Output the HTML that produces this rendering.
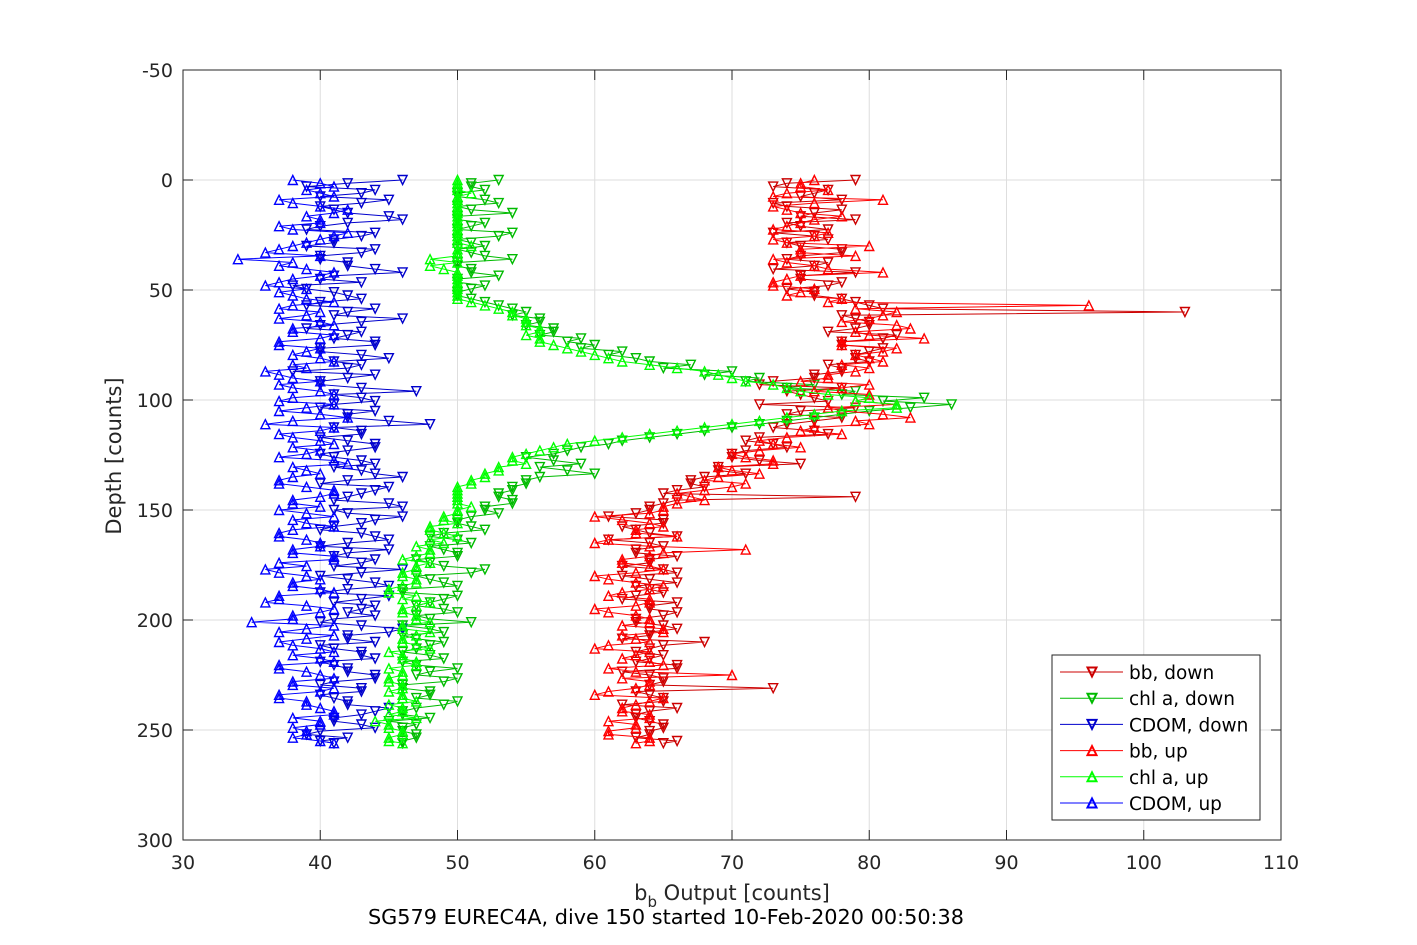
<!DOCTYPE html>
<html><head><meta charset="utf-8"><style>
html,body{margin:0;padding:0;background:#fff;}
svg{display:block;font-family:"DejaVu Sans","Liberation Sans",sans-serif;}
</style></head><body>
<svg id="chart" width="1417" height="945" viewBox="0 0 1417 945" xmlns="http://www.w3.org/2000/svg">
<rect x="0" y="0" width="1417" height="945" fill="#fff"/>
<g id="grid"></g>
<g id="series"></g>
<rect x="183" y="70" width="1098" height="770" fill="none" stroke="#262626" stroke-width="1"/>
<g id="ticks"></g>
<text x="732" y="900" font-size="21" fill="#262626" text-anchor="middle">b<tspan font-size="15" dy="7">b</tspan><tspan dy="-7"> Output [counts]</tspan></text>
<text x="666" y="924" font-size="20.8" fill="#000" text-anchor="middle">SG579 EUREC4A, dive 150 started 10-Feb-2020 00:50:38</text>
<text transform="translate(121,456) rotate(-90)" font-size="21" fill="#262626" text-anchor="middle">Depth [counts]</text>
<g id="legend"></g>
</svg>
<script>
const depths = [0,3,6,9,12,15,18,21,24,27,30,33,36,39,42,45,48,51,54,57,60,63,66,69,72,75,78,81,84,87,90,93,96,99,102,105,108,111,114,117,120,123,126,129,132,135,138,141,144,147,150,153,156,159,162,165,168,171,174,177,180,183,186,189,192,195,198,201,204,207,210,213,216,219,222,225,228,231,234,237,240,243,246,249,252,255];
const depthsB = [1.5,4.5,7.5,10.5,13.5,16.5,19.5,22.5,25.5,28.5,31.5,34.5,37.5,40.5,43.5,46.5,49.5,52.5,55.5,58.5,61.5,64.5,67.5,70.5,73.5,76.5,79.5,82.5,85.5,88.5,91.5,94.5,97.5,100.5,103.5,106.5,109.5,112.5,115.5,118.5,121.5,124.5,127.5,130.5,133.5,136.5,139.5,142.5,145.5,148.5,151.5,154.5,157.5,160.5,163.5,166.5,169.5,172.5,175.5,178.5,181.5,184.5,187.5,190.5,193.5,196.5,199.5,202.5,205.5,208.5,211.5,214.5,217.5,220.5,223.5,226.5,229.5,232.5,235.5,238.5,241.5,244.5,247.5,250.5,253.5,256];
const bbDown = [79,73,76,78,74,76,79,75,73,77,75,78,74,76,79,75,77,76,78,80,103,79,80,77,81,78,80,79,77,78,76,72,74,76,72,75,78,74,76,72,73,71,70,75,69,68,67,66,79,65,64,61,65,63,66,64,63,66,64,65,62,66,64,63,66,64,65,63,66,64,68,64,65,63,66,64,65,73,64,65,66,63,64,65,64,66];
const bbDownB = [74,77,75,73,78,75,74,77,76,74,78,75,77,73,75,78,74,76,79,81,78,80,79,82,78,81,79,80,78,76,73,78,75,77,79,74,76,73,77,71,74,70,72,69,71,67,68,65,66,64,63,65,62,64,61,65,63,64,62,66,64,63,65,62,64,66,63,65,64,62,65,63,64,66,62,65,64,63,65,62,64,63,65,64,63,65];
const bbUp = [76,75,74,81,73,75,76,74,77,73,80,75,73,76,81,74,73,75,78,96,82,80,82,79,84,78,81,80,78,79,77,80,76,80,82,78,83,80,75,74,73,72,71,73,70,69,71,68,67,66,65,60,64,63,66,60,71,64,62,65,60,63,64,61,64,60,63,64,65,62,64,60,63,64,61,70,64,63,60,64,62,64,61,63,61,64];
const bbUpB = [75,77,73,76,74,78,75,73,76,74,75,79,74,77,75,73,76,74,77,79,81,78,83,80,78,82,79,81,80,77,75,78,80,79,77,81,79,76,78,72,75,70,73,69,72,68,70,66,68,65,64,62,65,63,61,64,65,62,64,63,61,65,62,64,63,61,64,62,65,63,61,64,62,65,63,62,64,61,65,63,62,64,63,61,64,63];
const chlDown = [53,51,50,52,50,54,50,51,54,50,52,51,54,50,51,50,52,50,51,53,55,56,55,57,59,60,62,63,67,70,72,76,79,84,86,80,76,72,68,64,61,58,55,59,58,56,55,54,53,54,52,51,50,52,48,51,49,50,48,52,47,49,46,50,48,49,47,51,48,46,49,47,48,46,50,47,49,46,48,50,47,46,45,46,47,46];
const chlDownB = [51,52,50,53,51,50,52,50,53,51,50,52,50,51,53,50,51,50,52,54,54,56,57,56,58,59,61,64,65,68,71,74,78,81,83,78,74,70,66,62,59,57,57,56,60,55,54,53,54,52,53,50,51,49,50,48,50,47,49,51,48,50,46,49,47,50,48,46,49,47,48,46,49,47,48,50,46,48,47,49,46,48,47,46,47,46];
const chlUp = [50,50,51,50,50,50,50,50,50,50,51,50,48,48,50,50,50,50,50,52,54,55,55,56,56,57,59,61,64,68,70,73,75,80,82,78,74,70,66,62,58,56,54,55,53,52,51,50,50,50,50,49,50,48,50,49,48,47,48,47,46,47,45,47,48,46,47,48,46,47,46,48,46,47,45,46,45,46,46,47,46,45,44,45,46,45];
const chlUpB = [50,50,50,50,50,50,50,50,50,50,50,50,50,49,50,50,50,50,51,53,54,55,56,55,56,58,60,62,66,69,71,74,77,79,82,76,72,68,64,60,57,55,54,53,52,51,50,50,50,51,50,49,48,49,48,47,48,46,47,46,47,46,45,46,47,46,47,46,48,46,47,45,46,47,46,45,46,45,46,45,46,47,45,46,45,46];
const cdomDown = [46,39,43,45,40,42,46,40,44,41,39,43,40,42,46,40,38,41,43,39,42,46,40,43,41,44,40,45,43,38,42,40,47,43,41,44,42,48,43,40,44,42,41,44,43,46,40,44,42,45,41,46,43,40,44,42,45,41,43,46,40,44,42,45,41,43,44,40,46,42,44,41,43,40,42,44,41,43,40,42,45,43,41,44,39,40];
const cdomDownB = [42,44,40,43,41,45,42,39,43,41,44,40,42,44,41,43,39,42,40,44,41,43,39,42,44,40,43,41,42,44,40,43,41,44,40,42,45,41,43,42,44,40,43,41,44,42,45,43,41,46,42,44,41,43,45,40,42,44,41,43,42,45,40,43,44,42,41,43,45,42,40,43,44,41,42,44,40,43,41,42,44,41,43,40,42,41];
const cdomUp = [38,41,40,37,40,41,40,37,42,40,38,36,34,37,41,38,36,37,39,38,40,37,41,38,40,37,39,40,38,36,38,37,40,38,41,37,42,36,40,38,41,40,37,42,39,38,37,41,40,38,37,41,39,38,37,40,38,41,37,36,39,38,40,37,36,41,38,35,39,41,37,40,38,41,37,40,38,41,37,39,40,41,40,38,39,40];
const cdomUpB = [40,39,41,38,42,39,40,38,41,39,37,40,38,39,40,37,39,38,41,37,39,40,38,41,37,40,38,41,39,37,40,38,41,37,39,40,38,41,37,40,38,39,41,38,40,37,39,41,38,40,39,38,41,37,39,40,38,41,39,37,40,38,41,37,39,40,38,41,37,39,38,41,40,37,39,41,38,40,37,39,41,38,40,39,38,41];
const xTicks = [30,40,50,60,70,80,90,100,110];
const yTicks = [-50,0,50,100,150,200,250,300];
const seriesNames = ["bb, down","chl a, down","CDOM, down","bb, up","chl a, up","CDOM, up"];

const NS = "http://www.w3.org/2000/svg";
const X0=183,X1=1281,Y0=70,Y1=840;
const xs = v => X0 + (v-30)/80*(X1-X0);
const ys = d => Y0 + (d+50)/350*(Y1-Y0);
function mk(tag, attrs, parent){const e=document.createElementNS(NS,tag);for(const k in attrs)e.setAttribute(k,attrs[k]);parent.appendChild(e);return e;}
const grid=document.getElementById('grid'), ticks=document.getElementById('ticks');
xTicks.forEach(t=>{
  const gl=mk('line',{x1:xs(t),x2:xs(t),y1:Y0,y2:Y1,stroke:'#dedede','stroke-width':1},grid);
  
  
  mk('line',{x1:xs(t),x2:xs(t),y1:Y1,y2:Y1-10,stroke:'#262626'},ticks);
  mk('line',{x1:xs(t),x2:xs(t),y1:Y0,y2:Y0+10,stroke:'#262626'},ticks);
  const tl=mk('text',{x:xs(t),y:Y1+29,'font-size':19,fill:'#262626','text-anchor':'middle'},ticks);
  tl.textContent=t;
  
  
});
yTicks.forEach(t=>{
  const gl=mk('line',{x1:X0,x2:X1,y1:ys(t),y2:ys(t),stroke:'#dedede','stroke-width':1},grid);
  
  
  mk('line',{x1:X0,x2:X0+10,y1:ys(t),y2:ys(t),stroke:'#262626'},ticks);
  mk('line',{x1:X1,x2:X1-10,y1:ys(t),y2:ys(t),stroke:'#262626'},ticks);
  const tl=mk('text',{x:X0-10,y:ys(t)+7,'font-size':19,fill:'#262626','text-anchor':'end'},ticks);
  tl.textContent=t;
  
  
});
function tri(x,y,down){const s=4.5;return down?`${x-s},${y-s} ${x+s},${y-s} ${x},${y+s}`:`${x-s},${y+s} ${x+s},${y+s} ${x},${y-s}`;}
const sg=document.getElementById('series');
const defs=[[bbDown,bbDownB,'#cc0000',true,'bb-down'],[chlDown,chlDownB,'#00bb00',true,'chl-down'],[cdomDown,cdomDownB,'#0000cc',true,'cdom-down'],
            [bbUp,bbUpB,'#ff0000',false,'bb-up'],[chlUp,chlUpB,'#00ff00',false,'chl-up'],[cdomUp,cdomUpB,'#0000ff',false,'cdom-up']];
defs.forEach(([va,vb,col,down,nm])=>{
  const g=mk('g',{},sg);
  
  
  const P=[];
  const n=Math.max(va.length,vb.length);
  for(let i=0;i<n;i++){
    if(i<va.length&&i<depths.length)P.push([va[i],depths[i]]);
    if(i<vb.length&&i<depthsB.length)P.push([vb[i],depthsB[i]]);
  }
  const pts=P.map(p=>xs(p[0])+','+ys(p[1])).join(' ');
  const pl=mk('polyline',{points:pts,fill:'none',stroke:col,'stroke-width':1},g);
  
  
  P.forEach(p=>{
    const m=mk('polygon',{points:tri(xs(p[0]),ys(p[1]),down),fill:'none',stroke:col,'stroke-width':1.4},g);
    
    
  });
});
const lg=document.getElementById('legend');
const lb=mk('rect',{x:1052,y:655,width:208,height:165,fill:'#fff',stroke:'#262626','stroke-width':1},lg);


defs.forEach(([va,vb,col,down,nm],i)=>{
  const y=672+i*26.2;
  const e=mk('g',{},lg);
  
  
  mk('line',{x1:1060,x2:1123,y1:y,y2:y,stroke:col,'stroke-width':1},e);
  mk('polygon',{points:tri(1092,y,down),fill:'none',stroke:col,'stroke-width':2},e);
  const t=mk('text',{x:1129,y:y+7,'font-size':18.5,fill:'#000'},e);
  t.textContent=seriesNames[i];
});
</script>
</body></html>
